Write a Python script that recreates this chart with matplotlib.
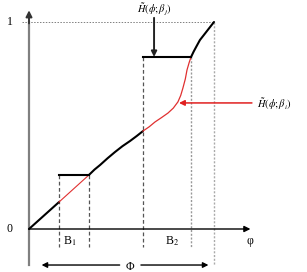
import matplotlib
matplotlib.use('Agg')
import matplotlib.pyplot as plt

plt.rcParams['font.family'] = ['Liberation Serif', 'DejaVu Serif']
plt.rcParams['mathtext.fontset'] = 'stix'

# phi normalised so that Phi = 1, H in [0, 1]
b1 = [0.162, 0.324]
b2 = [0.616, 0.876]
h_b1 = 0.261
h_b2 = 0.831

seg1_x = [0.0, 0.162]
seg1_y = [0.0, 0.130]
red1_x = [0.162, 0.324]
red1_y = [0.130, 0.261]
seg2_x = [0.324, 0.354, 0.384, 0.425, 0.465, 0.505, 0.546, 0.582, 0.616]
seg2_y = [0.261, 0.287, 0.309, 0.342, 0.372, 0.400, 0.425, 0.449, 0.473]
red2_x = [0.616, 0.650, 0.681, 0.716, 0.751, 0.780, 0.805, 0.820, 0.832, 0.845, 0.854, 0.866, 0.876]
red2_y = [0.473, 0.494, 0.517, 0.538, 0.560, 0.584, 0.614, 0.645, 0.681, 0.725, 0.768, 0.805, 0.831]
seg3_x = [0.876, 0.890, 0.905, 0.924, 0.945, 0.972, 1.0]
seg3_y = [0.831, 0.857, 0.882, 0.913, 0.937, 0.968, 1.0]

fig = plt.figure(figsize=(3.07, 2.72), dpi=100)
ax = fig.add_axes([0, 0, 1, 1])
ax.set_xlim(-29 / 185, 278 / 185)
ax.set_ylim(-43 / 207, 1 + 22 / 207)
ax.axis('off')

grey = '#808080'
# axes
ax.plot([0, 0], [-0.174, 1.0], color=grey, lw=1.6)
ax.annotate('', xy=(0, 1.07), xytext=(0, 0.98),
            arrowprops=dict(arrowstyle='-|>', color='#333333', lw=1.4, mutation_scale=9))
ax.annotate('', xy=(1.197, 0), xytext=(0, 0),
            arrowprops=dict(arrowstyle='-|>', color='black', lw=1.0, mutation_scale=9,
                            shrinkA=0, shrinkB=0))

# reference lines
ax.plot([-0.038, 1.0], [1, 1], color=grey, lw=0.7, ls=(0, (1.5, 1.5)))
ax.plot([1.0, 1.0], [1, -0.174], color='#aaaaaa', lw=1.0, ls=(0, (1.5, 1.2)))
for xb, hb in [(b1[0], h_b1), (b1[1], h_b1), (b2[0], h_b2)]:
    ax.plot([xb, xb], [hb, -0.087], color='#555555', lw=0.9, ls=(0, (3, 2)))
ax.plot([b2[1], b2[1]], [h_b2, -0.087], color='#999999', lw=1.0, ls=(0, (1.5, 1.2)))

# curves
kw = dict(color='black', lw=1.5, solid_capstyle='round', solid_joinstyle='round')
ax.plot(seg1_x, seg1_y, **kw)
ax.plot(red1_x, red1_y, color='#e03030', lw=0.8)
ax.plot(seg2_x, seg2_y, **kw)
ax.plot(red2_x, red2_y, color='#e03030', lw=0.9, solid_joinstyle='round')
ax.plot(seg3_x, seg3_y, **kw)
ax.plot(b1, [h_b1, h_b1], color='black', lw=1.5)
ax.plot(b2, [h_b2, h_b2], color='black', lw=1.5)

# labels
fs = 8.5
ax.text(-0.103, 1.0, '1', fontsize=fs, ha='center', va='center')
ax.text(-0.103, 0.0, '0', fontsize=fs, ha='center', va='center')
ax.text(0.222, -0.058, r'B$_1$', fontsize=fs, ha='center', va='center')
ax.text(0.773, -0.058, r'B$_2$', fontsize=fs, ha='center', va='center')
ax.text(1.195, -0.060, 'φ', fontsize=fs, ha='center', va='center')
ax.text(0.546, -0.184, 'Φ', fontsize=fs, ha='center', va='center')

ax.annotate('', xy=(0.068, -0.174), xytext=(0.49, -0.174),
            arrowprops=dict(arrowstyle='-|>', color='black', lw=1.0, mutation_scale=8,
                            shrinkA=0, shrinkB=0))
ax.annotate('', xy=(0.97, -0.174), xytext=(0.605, -0.174),
            arrowprops=dict(arrowstyle='-|>', color='black', lw=1.0, mutation_scale=8,
                            shrinkA=0, shrinkB=0))

ax.text(0.678, 1.062, r'$\tilde{H}\left(\phi;\beta_j\right)$', fontsize=7.5,
        ha='center', va='center')
ax.annotate('', xy=(0.676, h_b2), xytext=(0.676, 1.02),
            arrowprops=dict(arrowstyle='-|>', color='#222222', lw=1.4, mutation_scale=8,
                            shrinkA=0, shrinkB=0))

ax.annotate('', xy=(0.811, 0.609), xytext=(1.205, 0.609),
            arrowprops=dict(arrowstyle='-|>', color='#e02020', lw=1.1, mutation_scale=8,
                            shrinkA=0, shrinkB=0))
ax.text(1.235, 0.604, r'$\tilde{H}\left(\phi;\beta_i\right)$', fontsize=7.5,
        ha='left', va='center')

fig.savefig('out.png', dpi=100)
